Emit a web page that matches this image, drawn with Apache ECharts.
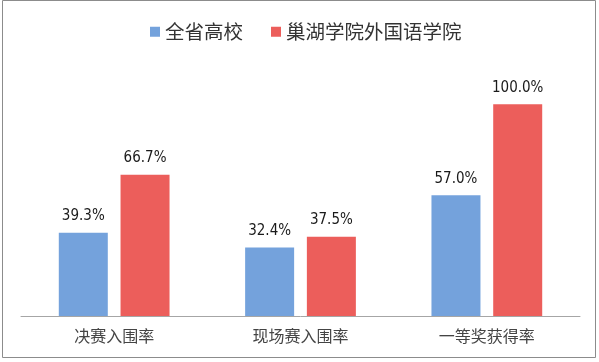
<!DOCTYPE html>
<html><head><meta charset="utf-8">
<script src="https://cdn.jsdelivr.net/npm/echarts@6/dist/echarts.min.js"></script>
<style>html,body{margin:0;padding:0;background:#fff}#c{width:599px;height:362px}</style>
</head><body><div id="c"></div>
<script>
var categories = ['决赛入围率', '现场赛入围率', '一等奖获得率'];
var seriesNames = ['全省高校', '巢湖学院外国语学院'];
var provinceValues = [39.3, 32.4, 57.0];
var collegeValues = [66.7, 37.5, 100.0];

var chart = echarts.init(document.getElementById('c'), null, {renderer: 'canvas'});
var labelStyle = {
  show: true, position: 'top', distance: 9,
  formatter: function (p) { return p.value.toFixed(1) + '%'; },
  fontFamily: '"Liberation Sans Narrow", "DejaVu Sans Condensed", "Noto Sans"', fontSize: 15, color: '#1a1a1a'
};
chart.setOption({
  animation: false,
  backgroundColor: '#fff',
  graphic: [{
    type: 'rect', shape: {x: 2.5, y: 0.5, width: 593, height: 357},
    style: {fill: 'none', stroke: '#8c8c8c', lineWidth: 1}, silent: true
  }],
  legend: {
    top: 17, left: 145, itemWidth: 10, itemHeight: 10, itemGap: 28,
    icon: 'rect',
    textStyle: {fontFamily: 'Noto Sans CJK SC', fontSize: 19.5, color: '#333', padding: [0,0,0,0]},
    data: seriesNames
  },
  grid: {left: 21, right: 19, top: 62, bottom: 46, containLabel: false},
  xAxis: {
    type: 'category', data: categories,
    axisLine: {lineStyle: {color: '#a6a6a6', width: 1}},
    axisTick: {show: false},
    axisLabel: {fontFamily: 'Noto Sans CJK SC', fontSize: 16, color: '#444', margin: 12}
  },
  yAxis: {
    type: 'value', min: 0, max: 120, interval: 20, show: false,
    splitLine: {show: false}
  },
  series: [
    {name: seriesNames[0], type: 'bar', data: provinceValues, barWidth: 49, barGap: '26%',
     itemStyle: {color: '#74a2dc'}, label: labelStyle},
    {name: seriesNames[1], type: 'bar', data: collegeValues, barWidth: 49,
     itemStyle: {color: '#ec5e5b'}, label: labelStyle}
  ]
});
</script></body></html>
